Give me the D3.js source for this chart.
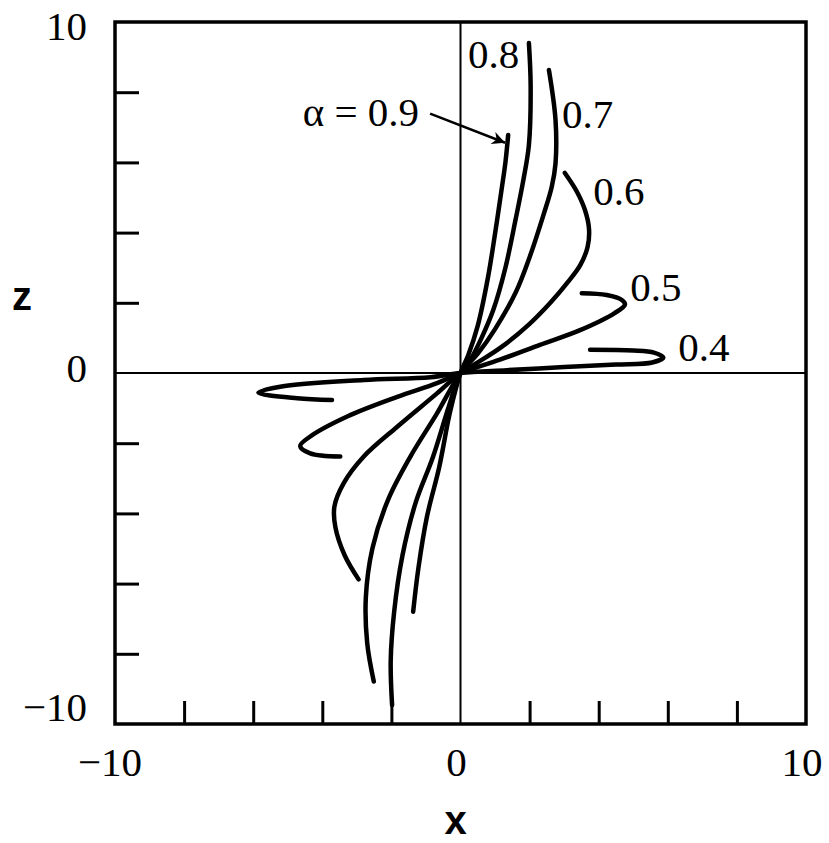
<!DOCTYPE html>
<html>
<head>
<meta charset="utf-8">
<script src="https://cdn.jsdelivr.net/npm/d3@7"></script>
<style>
  body { margin: 0; background: #fff; }
  .serif { font-family: "Liberation Serif", "Times New Roman", serif; font-size: 41px; fill: #000; }
  .sans { font-family: "Liberation Sans", Arial, sans-serif; font-size: 40px; font-weight: bold; fill: #000; }
</style>
</head>
<body>
<div id="root"></div>
<script>
// plot box in page pixels
var margin = {t: 22, r: 23, b: 119, l: 115};
var W = 829, H = 843;
var w = W - margin.l - margin.r;
var h = H - margin.t - margin.b;

// curves, tip (upper) -> origin -> tip (lower)
var alphas = ['0.9', '0.8', '0.7', '0.6', '0.5', '0.4'];

var curve09 = [[1.38,6.78],[1.3,6.0],[1.2,5.3],[1.02,4.1],[0.8,2.75],[0.5,1.35],[0.22,0.5],[0,0],
  [-0.3,-1.1],[-0.62,-2.7],[-0.97,-4.09],[-1.22,-5.57],[-1.37,-6.8]];
var curve08 = [[1.98,9.4],[2.03,8.2],[1.98,6.5],[1.82,5.5],[1.6,4.4],[1.3,3.0],[0.95,1.8],[0.61,1.0],[0.3,0.4],[0,0],
  [-0.34,-0.96],[-0.8,-2.4],[-1.3,-3.7],[-1.68,-5.2],[-1.92,-6.8],[-2.02,-8.2],[-1.98,-9.46]];
var curve07 = [[2.56,8.63],[2.75,7.21],[2.75,5.97],[2.64,5.3],[2.4,4.5],[2.0,3.3],[1.6,2.3],[1.0,1.25],[0.5,0.55],[0,0],
  [-0.68,-1.15],[-1.45,-2.38],[-2.1,-3.62],[-2.55,-5.0],[-2.74,-6.4],[-2.7,-7.7],[-2.51,-8.79]];
var curve06 = [[3.02,5.7],[3.35,5.2],[3.6,4.65],[3.72,4.1],[3.68,3.6],[3.47,3.08],[3.1,2.58],[2.6,2.0],[2.0,1.4],[1.2,0.75],[0.5,0.3],[0,0],
  [-0.68,-0.58],[-1.83,-1.53],[-2.8,-2.38],[-3.38,-3.14],[-3.65,-3.81],[-3.62,-4.4],[-3.35,-5.2],[-2.95,-5.88]];
var curve05 = [[3.51,2.27],[4.23,2.22],[4.67,2.08],[4.76,1.95],[4.45,1.7],[3.46,1.22],[2.3,0.8],[1.14,0.38],[0,0],
  [-0.68,-0.29],[-1.83,-0.68],[-3.28,-1.24],[-4.35,-1.81],[-4.64,-2.08],[-4.35,-2.29],[-3.48,-2.38]];
var curve04 = [[3.75,0.66],[5.0,0.64],[5.6,0.58],[5.87,0.44],[5.55,0.3],[4.5,0.24],[3.0,0.17],[1.34,0.08],[0,0],
  [-0.87,-0.12],[-2.8,-0.2],[-5.22,-0.39],[-5.85,-0.56],[-4.73,-0.72],[-3.72,-0.77]];
var curves = [curve09, curve08, curve07, curve06, curve05, curve04];

// curve labels: [x, z] of left end / baseline
var labelPos = [null, [0.22,8.69], [2.94,6.99], [3.84,4.8], [4.91,2.05], [6.3,0.34]];
// alpha = 0.9 callout: text end, arrow start, arrow end
var calloutText = 'α = 0.9';
var calloutAt = [-1.2, 7.05];
var arrowFrom = [-0.88, 7.39];
var arrowTo = [1.29, 6.56];

var tickVals = [-8, -6, -4, -2, 2, 4, 6, 8];
var labelVals = [-10, 0, 10];

var xScale = d3.scaleLinear().domain([-10, 10]).range([0, w]);
var yScale = d3.scaleLinear().domain([-10, 10]).range([h, 0]);

var svg = d3.select('#root').append('svg')
  .attr('width', W).attr('height', H)
  .append('g')
  .attr('transform', 'translate(' + margin.l + ',' + margin.t + ')');

// zero lines
svg.append('line').attr('x1', 0).attr('x2', w).attr('y1', yScale(0)).attr('y2', yScale(0))
  .attr('stroke', '#000').attr('stroke-width', 2);
svg.append('line').attr('x1', xScale(0)).attr('x2', xScale(0)).attr('y1', 0).attr('y2', h)
  .attr('stroke', '#000').attr('stroke-width', 2);

// inward ticks via axes
var xAxis = d3.axisBottom(xScale).tickValues(tickVals).tickSize(-23).tickFormat('');
var yAxis = d3.axisLeft(yScale).tickValues(tickVals).tickSize(-24).tickFormat('');
var gx = svg.append('g').attr('transform', 'translate(0,' + h + ')').call(xAxis);
var gy = svg.append('g').call(yAxis);
[gx, gy].forEach(function(g) {
  g.select('.domain').remove();
  g.selectAll('line').attr('stroke', '#000').attr('stroke-width', 3);
});

// frame
svg.append('rect').attr('x', 0).attr('y', 0).attr('width', w).attr('height', h)
  .attr('fill', 'none').attr('stroke', '#000').attr('stroke-width', 3.5);

// tick labels
svg.selectAll('.ylab').data(labelVals).enter().append('text')
  .attr('class', 'serif')
  .attr('text-anchor', 'end')
  .attr('x', -28)
  .attr('y', function(d) { return yScale(d) + (d == -10 ? -3 : d == 0 ? 9 : 18); })
  .text(function(d) { return d < 0 ? '\u2212' + Math.abs(d) : d; });

svg.selectAll('.xlab').data(labelVals).enter().append('text')
  .attr('class', 'serif')
  .attr('text-anchor', 'middle')
  .attr('x', function(d) { return xScale(d) + (d == 10 ? -4 : d == 0 ? -4 : -5); })
  .attr('y', h + 52)
  .text(function(d) { return d < 0 ? '\u2212' + Math.abs(d) : d; });

// axis titles
svg.append('text').attr('class', 'sans').attr('text-anchor', 'middle')
  .attr('x', xScale(0) - 5).attr('y', h + 110).text('x');
svg.append('text').attr('class', 'sans').attr('text-anchor', 'middle')
  .attr('x', -93).attr('y', yScale(1.8)).text('z');

// curves
var line = d3.line()
  .x(function(d) { return xScale(d[0]); })
  .y(function(d) { return yScale(d[1]); })
  .curve(d3.curveCatmullRom.alpha(0.5));

svg.selectAll('.curve').data(curves).enter().append('path')
  .attr('class', 'curve')
  .attr('d', line)
  .attr('fill', 'none')
  .attr('stroke', '#000')
  .attr('stroke-width', 4.5)
  .attr('stroke-linecap', 'round')
  .attr('stroke-linejoin', 'round');

// curve labels
alphas.forEach(function(a, i) {
  if (!labelPos[i]) return;
  svg.append('text').attr('class', 'serif')
    .attr('x', xScale(labelPos[i][0])).attr('y', yScale(labelPos[i][1]))
    .text(a);
});

// callout for 0.9
svg.append('defs').append('marker')
  .attr('id', 'arrow').attr('viewBox', '0 0 10 10')
  .attr('refX', 10).attr('refY', 5)
  .attr('markerWidth', 22).attr('markerHeight', 13)
  .attr('markerUnits', 'userSpaceOnUse')
  .attr('orient', 'auto')
  .append('path').attr('d', 'M0,0 L10,5 L0,10 L3,5 z').attr('fill', '#000');

svg.append('line')
  .attr('x1', xScale(arrowFrom[0])).attr('y1', yScale(arrowFrom[1]))
  .attr('x2', xScale(arrowTo[0])).attr('y2', yScale(arrowTo[1]))
  .attr('stroke', '#000').attr('stroke-width', 2.5)
  .attr('marker-end', 'url(#arrow)');

svg.append('text').attr('class', 'serif').attr('text-anchor', 'end')
  .attr('x', xScale(calloutAt[0])).attr('y', yScale(calloutAt[1]))
  .text(calloutText);
</script>
</body>
</html>
